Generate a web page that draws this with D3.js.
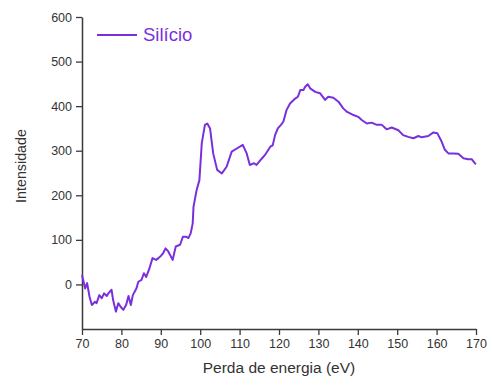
<html>
<head>
    <script src="https://d3js.org/d3.v7.min.js"></script>
    <style>
        body { margin: 0; background: white; }
        text { font-family: "Liberation Sans", Arial, sans-serif; }
    </style>
</head>
<body>
    <svg id="chart" width="489" height="381"></svg>

    <script>
    const energy = [70, 70.3, 70.8, 71.3, 71.9, 72.5, 73.3, 73.7, 74.4, 75, 75.6, 76.3, 76.7, 77.5, 77.9,
        78.6, 79.2, 79.8, 80.5, 81.2, 81.8, 82.4, 82.9, 83.8, 84.3, 85.1, 85.7, 86.3, 87, 87.9,
        88.8, 89.4, 90, 90.6, 91.2, 91.9, 93, 93.8, 94.9, 95.6, 96.4, 97, 97.6, 98.1, 98.3,
        99.1, 99.8, 100.4, 101.2, 101.8, 102.5, 103.3, 104.3, 105.5, 106.7, 108, 109.3, 110.8, 111.8,
        112.6, 113.7, 114.3, 115.6, 116.4, 117.8, 118.4, 119, 119.7, 120.5, 121.1, 121.9, 122.8, 124.1,
        124.8, 125.4, 126.2, 126.6, 127.3, 127.9, 129.2, 130.4, 131.7, 132.5, 133.8, 135.1, 136.3, 137.3,
        138.9, 140.1, 141, 142.3, 143.5, 144.8, 146.1, 147.3, 148.6, 150.3, 151.5, 152.8, 154.1, 155.4,
        156.2, 157.9, 159.2, 160.2, 161.3, 162.1, 163, 164.2, 165.5, 166.8, 168, 168.9, 169.7, 170];
    const intensity = [21, 10, -9, 3, -27, -46, -39, -42, -24, -31, -20, -26, -20, -12, -35,
        -61, -42, -50, -57, -46, -26, -46, -24, -9, 6, 10, 25, 17, 33, 59,
        55, 59, 64, 70, 81, 74, 55, 85, 89, 107, 107, 104, 115, 137, 174,
        212, 234, 317, 358, 361, 350, 294, 257, 249, 264, 298, 305, 313, 294,
        268, 272, 268, 282, 290, 309, 312, 335, 350, 358, 365, 391, 406, 417,
        421, 436, 436, 443, 449, 440, 432, 429, 414, 421, 419, 410, 395, 387,
        380, 376, 369, 361, 363, 358, 358, 348, 352, 346, 335, 331, 328, 333,
        330, 333, 341, 339, 320, 302, 294, 294, 293, 283, 281, 281, 272, 270];

    const xTicks = [70, 80, 90, 100, 110, 120, 130, 140, 150, 160, 170];
    const yTicks = [0, 100, 200, 300, 400, 500, 600];
    const seriesName = "Silício";

    const svg = d3.select("#chart");
    const lineColor = "#7a2fdc";
    const axisColor = "#3a3a3a";

    const x = d3.scaleLinear().domain([70, 170]).range([82, 476]);
    const y = d3.scaleLinear().domain([-100, 600]).range([329, 17]);

    // axes
    const xAxis = svg.append("g")
        .attr("transform", "translate(0,329)")
        .call(d3.axisBottom(x).tickValues(xTicks).tickSize(6).tickSizeOuter(0).tickPadding(4));
    const yAxis = svg.append("g")
        .attr("transform", "translate(82,0)")
        .call(d3.axisLeft(y).tickValues(yTicks).tickSize(6).tickSizeOuter(0).tickPadding(4));

    [xAxis, yAxis].forEach(g => {
        g.select(".domain").attr("stroke", axisColor).attr("stroke-width", 1.5);
        g.selectAll(".tick line").attr("stroke", axisColor).attr("stroke-width", 1.3);
        g.selectAll(".tick text")
            .attr("fill", "#333")
            .style("font-size", "12.5px")
            .style("font-family", "'Liberation Sans', Arial, sans-serif");
    });

    // data line
    const line = d3.line()
        .x((d, i) => x(energy[i]))
        .y(d => y(d));

    svg.append("path")
        .datum(intensity)
        .attr("d", line)
        .attr("fill", "none")
        .attr("stroke", lineColor)
        .attr("stroke-width", 2)
        .attr("stroke-linejoin", "round");

    // legend
    svg.append("line")
        .attr("x1", 97).attr("x2", 137)
        .attr("y1", 35).attr("y2", 35)
        .attr("stroke", lineColor)
        .attr("stroke-width", 2);
    svg.append("text")
        .attr("x", 143).attr("y", 41)
        .attr("fill", lineColor)
        .style("font-size", "18.5px")
        .text(seriesName);

    // axis titles
    svg.append("text")
        .attr("x", 279).attr("y", 373)
        .attr("text-anchor", "middle")
        .attr("fill", "#333")
        .style("font-size", "15.5px")
        .text("Perda de energia (eV)");
    svg.append("text")
        .attr("transform", "translate(26,166) rotate(-90)")
        .attr("text-anchor", "middle")
        .attr("fill", "#333")
        .style("font-size", "14.3px")
        .text("Intensidade");
    </script>
</body>
</html>
